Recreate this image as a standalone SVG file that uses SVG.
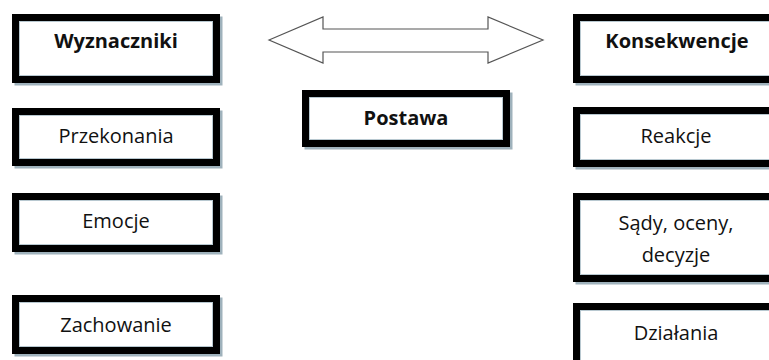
<svg xmlns="http://www.w3.org/2000/svg" width="769" height="360" viewBox="0 0 769 360">
<style>
.sh{fill:none;stroke:#9fb2bc;stroke-width:7}
.bx{fill:#fff;stroke:#000;stroke-width:7}
.in{fill:none;stroke:#b8c8d0;stroke-width:1}
.t{font-family:"Open Sans","Noto Sans","Liberation Sans",sans-serif;font-size:20px;fill:#111;text-anchor:middle}
.b{font-weight:bold}
.ar{fill:#fff;stroke:#555;stroke-width:1.2}
</style>
<rect width="769" height="360" fill="#fff"/>
<g id="connectors">
<polygon class="ar" points="269,40 323,17 323,29 488,29 488,17 543,40 488,63 488,52 323,52 323,63"/>
</g>
<g id="wyznaczniki">
<rect class="sh" x="18" y="20" width="201" height="62"/>
<rect class="bx" x="15.5" y="17.5" width="201" height="62"/>
<rect class="in" x="19.5" y="21.5" width="193" height="54"/>
<text class="t b" x="116" y="48">Wyznaczniki</text>
</g>
<g id="przekonania">
<rect class="sh" x="18" y="114" width="201" height="51"/>
<rect class="bx" x="15.5" y="111.5" width="201" height="51"/>
<rect class="in" x="19.5" y="115.5" width="193" height="43"/>
<text class="t" x="116" y="143">Przekonania</text>
</g>
<g id="emocje">
<rect class="sh" x="18" y="199" width="201" height="52"/>
<rect class="bx" x="15.5" y="196.5" width="201" height="52"/>
<rect class="in" x="19.5" y="200.5" width="193" height="44"/>
<text class="t" x="116" y="228">Emocje</text>
</g>
<g id="zachowanie">
<rect class="sh" x="18" y="301" width="201" height="52"/>
<rect class="bx" x="15.5" y="298.5" width="201" height="52"/>
<rect class="in" x="19.5" y="302.5" width="193" height="44"/>
<text class="t" x="116" y="332">Zachowanie</text>
</g>
<g id="postawa">
<rect class="sh" x="308" y="96" width="201" height="50"/>
<rect class="bx" x="305.5" y="93.5" width="201" height="50"/>
<rect class="in" x="309.5" y="97.5" width="193" height="42"/>
<text class="t b" x="406" y="125">Postawa</text>
</g>
<g id="konsekwencje">
<rect class="sh" x="579" y="20" width="201" height="62"/>
<rect class="bx" x="576.5" y="17.5" width="201" height="62"/>
<rect class="in" x="580.5" y="21.5" width="193" height="54"/>
<text class="t b" x="677" y="48">Konsekwencje</text>
</g>
<g id="reakcje">
<rect class="sh" x="579" y="113" width="201" height="53"/>
<rect class="bx" x="576.5" y="110.5" width="201" height="53"/>
<rect class="in" x="580.5" y="114.5" width="193" height="45"/>
<text class="t" x="676" y="143">Reakcje</text>
</g>
<g id="sady">
<rect class="sh" x="579" y="199" width="201" height="82"/>
<rect class="bx" x="576.5" y="196.5" width="201" height="82"/>
<rect class="in" x="580.5" y="200.5" width="193" height="74"/>
<text class="t" x="676" y="230">Sądy, oceny,</text>
<text class="t" x="676" y="262">decyzje</text>
</g>
<g id="dzialania">
<rect class="sh" x="579" y="309" width="201" height="60"/>
<rect class="bx" x="576.5" y="306.5" width="201" height="60"/>
<rect class="in" x="580.5" y="310.5" width="193" height="52"/>
<text class="t" x="676" y="340">Działania</text>
</g>
</svg>
